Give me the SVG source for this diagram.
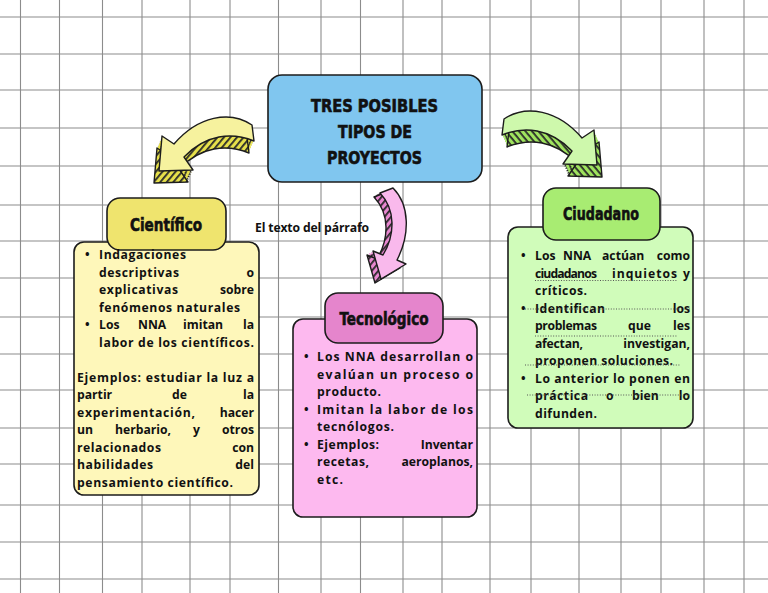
<svg xmlns="http://www.w3.org/2000/svg" width="768" height="593" viewBox="0 0 768 593">
<defs>
<style>
.g{stroke:#8c8c8c;stroke-width:1.1}
.t{font-family:"Open Sans","Liberation Sans",sans-serif;font-weight:700;font-size:12.2px;fill:#111}
.e{text-anchor:end}
.h{font-family:"DejaVu Sans Condensed","Liberation Sans Narrow","DejaVu Sans",sans-serif;font-weight:700;fill:#111;stroke:#111;stroke-width:0.6;text-anchor:middle}
.box{stroke:#1c1c1c;stroke-width:1.6}
.dot{stroke:#555;stroke-width:1;stroke-dasharray:1 1.6;fill:none}
.ao{stroke:#1c1c1c;stroke-width:1.4;stroke-linejoin:round}
</style>
<pattern id="hy" width="5" height="5" patternUnits="userSpaceOnUse" patternTransform="rotate(40)"><rect width="5" height="5" fill="#E6E04A"/><rect width="1.8" height="5" fill="#2a2a2a"/></pattern>
<pattern id="hg" width="5" height="5" patternUnits="userSpaceOnUse" patternTransform="rotate(40)"><rect width="5" height="5" fill="#9FE35E"/><rect width="1.8" height="5" fill="#2a2a2a"/></pattern>
<pattern id="hp" width="5" height="5" patternUnits="userSpaceOnUse" patternTransform="rotate(40)"><rect width="5" height="5" fill="#E887D0"/><rect width="1.8" height="5" fill="#2a2a2a"/></pattern>
<path id="ya" d="M252 125 C230 110 198 116 174 144 L162 136 L159 171 L193 170 L184 157 C206 134 232 132 254 141 Z"/>
<path id="pa" d="M380 193 C396 210 395 235 383 255 L373 251 L381 279 L406 264 L397 260 C410 235 410 205 393 188 Z"/>
</defs>
<rect width="768" height="593" fill="#fff"/>
<g id="grid" class="g">
<line x1="20.5" y1="0" x2="20.5" y2="593"/><line x1="59.5" y1="0" x2="59.5" y2="593"/><line x1="102.5" y1="0" x2="102.5" y2="593"/><line x1="142" y1="0" x2="142" y2="593"/><line x1="190" y1="0" x2="190" y2="593"/><line x1="230" y1="0" x2="230" y2="593"/><line x1="278.5" y1="0" x2="278.5" y2="593"/><line x1="321" y1="0" x2="321" y2="593"/><line x1="360.5" y1="0" x2="360.5" y2="593"/><line x1="403" y1="0" x2="403" y2="593"/><line x1="442" y1="0" x2="442" y2="593"/><line x1="490" y1="0" x2="490" y2="593"/><line x1="531" y1="0" x2="531" y2="593"/><line x1="579" y1="0" x2="579" y2="593"/><line x1="621" y1="0" x2="621" y2="593"/><line x1="661" y1="0" x2="661" y2="593"/><line x1="704" y1="0" x2="704" y2="593"/><line x1="744" y1="0" x2="744" y2="593"/>
<line x1="0" y1="17" x2="768" y2="17"/><line x1="0" y1="54" x2="768" y2="54"/><line x1="0" y1="90" x2="768" y2="90"/><line x1="0" y1="128" x2="768" y2="128"/><line x1="0" y1="166" x2="768" y2="166"/><line x1="0" y1="205" x2="768" y2="205"/><line x1="0" y1="241" x2="768" y2="241"/><line x1="0" y1="278" x2="768" y2="278"/><line x1="0" y1="317" x2="768" y2="317"/><line x1="0" y1="354" x2="768" y2="354"/><line x1="0" y1="390" x2="768" y2="390"/><line x1="0" y1="428" x2="768" y2="428"/><line x1="0" y1="464" x2="768" y2="464"/><line x1="0" y1="505" x2="768" y2="505"/><line x1="0" y1="542" x2="768" y2="542"/><line x1="0" y1="579" x2="768" y2="579"/>
</g>
<g id="connectors">
<g id="arrow-yellow">
<use href="#ya" fill="url(#hy)" transform="translate(-1,2.4)"/><use href="#ya" fill="url(#hy)" transform="translate(-2,4.8)"/><use href="#ya" fill="url(#hy)" transform="translate(-3,7.2)"/><use href="#ya" fill="url(#hy)" transform="translate(-4,9.6)"/>
<use href="#ya" fill="url(#hy)" class="ao" transform="translate(-5,12)"/>
<use href="#ya" fill="#F6F29E" class="ao"/>
</g>
<g id="arrow-green" transform="translate(756,-6) scale(-1,1)">
<use href="#ya" fill="url(#hg)" transform="translate(-1,2.4)"/><use href="#ya" fill="url(#hg)" transform="translate(-2,4.8)"/><use href="#ya" fill="url(#hg)" transform="translate(-3,7.2)"/><use href="#ya" fill="url(#hg)" transform="translate(-4,9.6)"/>
<use href="#ya" fill="url(#hg)" class="ao" transform="translate(-5,12)"/>
<use href="#ya" fill="#CEF8AC" class="ao"/>
</g>
<g id="arrow-pink">
<use href="#pa" fill="url(#hp)" transform="translate(-2,1)"/><use href="#pa" fill="url(#hp)" transform="translate(-4,2)"/>
<use href="#pa" fill="url(#hp)" class="ao" transform="translate(-6,4)"/>
<use href="#pa" fill="#F9B9EC" class="ao"/>
</g>
</g>
<g id="central">
<rect class="box" x="268" y="75" width="214" height="107" rx="14" fill="#80C6EF" stroke-width="2"/>
<text class="h" x="374.5" y="112" font-size="18" stroke-width="0.9" textLength="127" lengthAdjust="spacingAndGlyphs">TRES POSIBLES</text>
<text class="h" x="375" y="138" font-size="18" stroke-width="0.9" textLength="74" lengthAdjust="spacingAndGlyphs">TIPOS DE</text>
<text class="h" x="374.5" y="164" font-size="18" stroke-width="0.9" textLength="95" lengthAdjust="spacingAndGlyphs">PROYECTOS</text>
</g>
<g id="cientifico">
<rect class="box" x="74" y="242" width="185" height="253" rx="10" fill="#FEF7BA"/>
<rect class="box" x="107" y="198" width="119" height="52" rx="13" fill="#EFE46E"/>
<text class="h" x="166" y="231" font-size="17" textLength="72" lengthAdjust="spacingAndGlyphs">Científico</text>
<text class="t" x="85" y="259">•</text><text class="t" x="99" y="259" textLength="87" lengthAdjust="spacing">Indagaciones</text>
<text class="t" x="99" y="276.5" textLength="80" lengthAdjust="spacing">descriptivas</text><text class="t e" x="254" y="276.5">o</text>
<text class="t" x="99" y="294" textLength="79" lengthAdjust="spacing">explicativas</text><text class="t e" x="254" y="294">sobre</text>
<text class="t" x="99" y="311.5" textLength="141" lengthAdjust="spacing">fenómenos naturales</text>
<text class="t" x="85" y="329">•</text><text class="t" x="99" y="329">Los</text><text class="t" x="138" y="329">NNA</text><text class="t" x="183" y="329">imitan</text><text class="t e" x="254" y="329">la</text>
<text class="t" x="99" y="346.5" textLength="155" lengthAdjust="spacing">labor de los científicos.</text>
<text class="t" x="77" y="381.5" textLength="177" lengthAdjust="spacing">Ejemplos: estudiar la luz a</text>
<text class="t" x="77" y="399">partir</text><text class="t" x="172" y="399">de</text><text class="t e" x="254" y="399">la</text>
<text class="t" x="77" y="416.5" textLength="118" lengthAdjust="spacing">experimentación,</text><text class="t e" x="254" y="416.5">hacer</text>
<text class="t" x="77" y="434">un</text><text class="t" x="115" y="434">herbario,</text><text class="t" x="193" y="434">y</text><text class="t e" x="254" y="434">otros</text>
<text class="t" x="77" y="451.5" textLength="84" lengthAdjust="spacing">relacionados</text><text class="t e" x="254" y="451.5">con</text>
<text class="t" x="77" y="469" textLength="76" lengthAdjust="spacing">habilidades</text><text class="t e" x="254" y="469">del</text>
<text class="t" x="77" y="486.5" textLength="156" lengthAdjust="spacing">pensamiento científico.</text>
</g>
<g id="tecnologico">
<rect class="box" x="293" y="319" width="184" height="198" rx="10" fill="#FDB9EF"/>
<rect class="box" x="325" y="293" width="118" height="50" rx="13" fill="#E585CC"/>
<text class="h" x="384" y="325" font-size="17" textLength="89" lengthAdjust="spacingAndGlyphs">Tecnológico</text>
<text class="t" x="304" y="361">•</text><text class="t" x="317" y="361" textLength="156" lengthAdjust="spacing">Los NNA desarrollan o</text>
<text class="t" x="317" y="378.5" textLength="156" lengthAdjust="spacing">evalúan un proceso o</text>
<text class="t" x="317" y="396" textLength="64" lengthAdjust="spacing">producto.</text>
<text class="t" x="304" y="413.5">•</text><text class="t" x="317" y="413.5" textLength="156" lengthAdjust="spacing">Imitan la labor de los</text>
<text class="t" x="317" y="431" textLength="77" lengthAdjust="spacing">tecnólogos.</text>
<text class="t" x="304" y="448.5">•</text><text class="t" x="317" y="448.5" textLength="62" lengthAdjust="spacing">Ejemplos:</text><text class="t e" x="473" y="448.5">Inventar</text>
<text class="t" x="317" y="466" textLength="52" lengthAdjust="spacing">recetas,</text><text class="t e" x="473" y="466">aeroplanos,</text>
<text class="t" x="317" y="483.5" textLength="26" lengthAdjust="spacing">etc.</text>
</g>
<g id="ciudadano">
<rect class="box" x="508" y="227" width="185" height="201" rx="10" fill="#D0FCBA"/>
<rect class="box" x="543" y="188" width="117" height="52" rx="13" fill="#A8EC72"/>
<text class="h" x="601" y="220" font-size="17" textLength="76" lengthAdjust="spacingAndGlyphs">Ciudadano</text>
<text class="t" x="521" y="260">•</text><text class="t" x="535" y="260">Los</text><text class="t" x="563" y="260">NNA</text><text class="t" x="602" y="260">actúan</text><text class="t e" x="690" y="260">como</text>
<text class="t" x="535" y="277.5" textLength="62" lengthAdjust="spacing">ciudadanos</text><text class="t" x="612" y="277.5" textLength="65" lengthAdjust="spacing">inquietos</text><text class="t e" x="690" y="277.5">y</text>
<text class="t" x="535" y="295" textLength="52" lengthAdjust="spacing">críticos.</text>
<text class="t" x="521" y="312.5">•</text><text class="t" x="535" y="312.5" textLength="70" lengthAdjust="spacing">Identifican</text><text class="t e" x="690" y="312.5">los</text>
<text class="t" x="535" y="330" textLength="62" lengthAdjust="spacing">problemas</text><text class="t" x="628" y="330">que</text><text class="t e" x="690" y="330">les</text>
<text class="t" x="535" y="347.5" textLength="48" lengthAdjust="spacing">afectan,</text><text class="t e" x="690" y="347.5">investigan,</text>
<text class="t" x="535" y="365" textLength="138" lengthAdjust="spacing">proponen soluciones.</text>
<text class="t" x="521" y="382.5">•</text><text class="t" x="535" y="382.5" textLength="155" lengthAdjust="spacing">Lo anterior lo ponen en</text>
<text class="t" x="535" y="400" textLength="53" lengthAdjust="spacing">práctica</text><text class="t" x="606" y="400">o</text><text class="t" x="632" y="400">bien</text><text class="t e" x="690" y="400">lo</text>
<text class="t" x="535" y="417.5" textLength="62" lengthAdjust="spacing">difunden.</text>
<line class="dot" x1="535" y1="280.5" x2="677" y2="280.5"/>
<line class="dot" x1="525" y1="309" x2="690" y2="309"/>
<line class="dot" x1="535" y1="336" x2="678" y2="336"/>
<line class="dot" x1="525" y1="365" x2="680" y2="365"/>
<line class="dot" x1="527" y1="395" x2="690" y2="395"/>
</g>
<g id="label">
<text class="t" x="255" y="232" font-size="10.5" textLength="114" lengthAdjust="spacing">El texto del párrafo</text>
</g>
</svg>
